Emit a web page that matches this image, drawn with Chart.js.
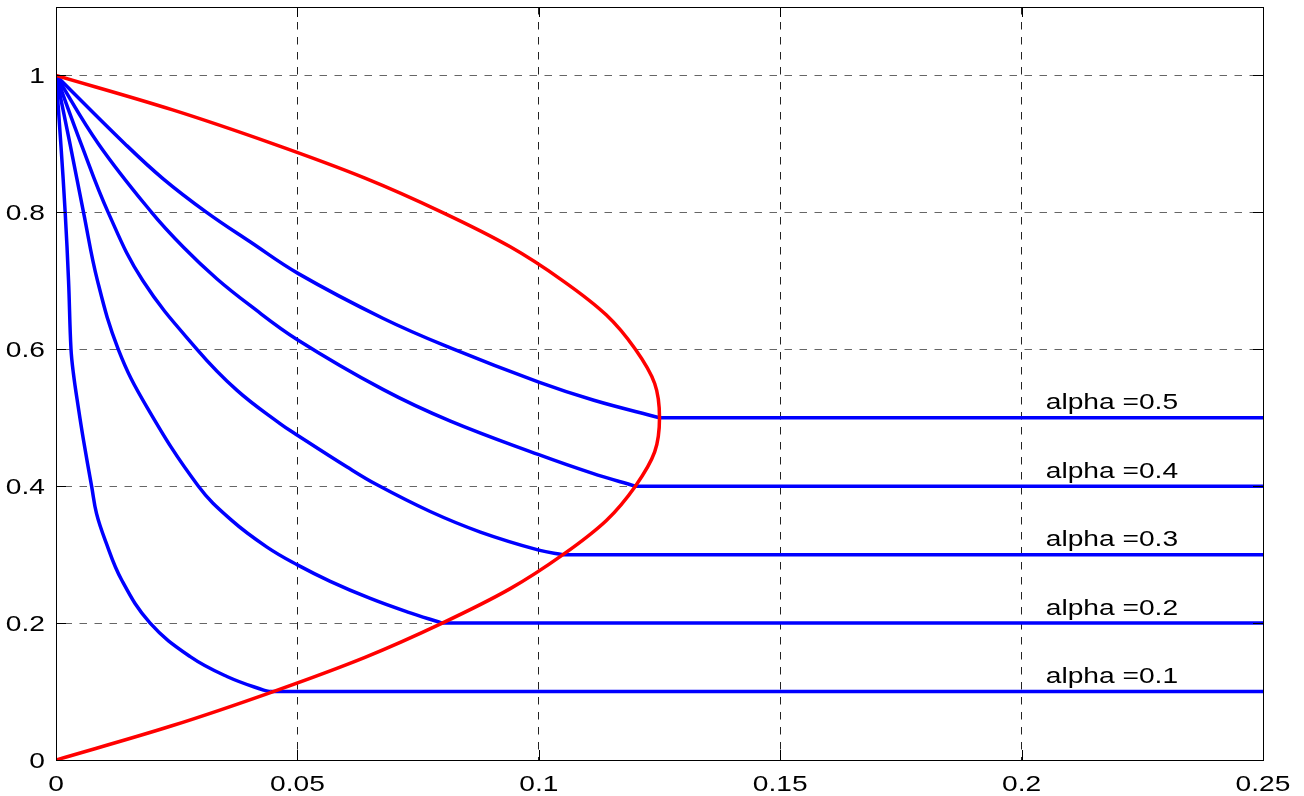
<!DOCTYPE html>
<html>
<head>
<meta charset="utf-8">
<title>alpha curves</title>
<script src="https://cdn.jsdelivr.net/npm/chart.js@4.4.1/dist/chart.umd.min.js"></script>
<style>
    html, body { margin: 0; padding: 0; background: #fff; }
    #wrap { width: 1304px; height: 796px; }
</style>
</head>
<body>
<div id="wrap"><canvas id="myChart" width="1304" height="796"></canvas></div>
<script>
// axes
var xMax = 0.25;
var yMax = 1.1;
var xTicks = [0, 0.05, 0.1, 0.15, 0.2, 0.25];
var yTicks = [0, 0.2, 0.4, 0.6, 0.8, 1];
var xTickLabels = ['0', '0.05', '0.1', '0.15', '0.2', '0.25'];
var yTickLabels = ['0', '0.2', '0.4', '0.6', '0.8', '1'];

// curve labels
var alphas = [0.1, 0.2, 0.3, 0.4, 0.5];
var alphaLabels = ['alpha =0.1', 'alpha =0.2', 'alpha =0.3', 'alpha =0.4', 'alpha =0.5'];
var labelX = 0.205;

// red boundary
var redX = [0, 0.024, 0.045, 0.064, 0.08, 0.094, 0.105, 0.114, 0.12, 0.124, 0.125,
            0.124, 0.12, 0.114, 0.105, 0.094, 0.08, 0.064, 0.045, 0.024, 0];
var redY = [0, 0.05, 0.1, 0.15, 0.2, 0.25, 0.3, 0.35, 0.4, 0.45, 0.5,
            0.55, 0.6, 0.65, 0.7, 0.75, 0.8, 0.85, 0.9, 0.95, 1];

// blue curves, from (0,1) down to the red boundary
var blue1X = [0, 0.001, 0.0019, 0.0026, 0.0031, 0.0036, 0.0046, 0.0057, 0.0074, 0.0084, 0.0102, 0.0136, 0.0195, 0.0278, 0.0354, 0.043, 0.0444];
var blue1Y = [1, 0.9, 0.8, 0.7, 0.601, 0.565, 0.516, 0.467, 0.399, 0.36, 0.321, 0.263, 0.2, 0.151, 0.122, 0.102, 0.1];

var blue2X = [0, 0.0029, 0.0057, 0.0086, 0.0129, 0.0188, 0.0295, 0.0364, 0.0437, 0.05, 0.0568, 0.0651, 0.0727, 0.08];
var blue2Y = [1, 0.9, 0.8, 0.7, 0.6, 0.516, 0.4, 0.35, 0.311, 0.285, 0.261, 0.236, 0.2165, 0.2];

var blue3X = [0, 0.0052, 0.0108, 0.018, 0.0292, 0.0375, 0.0464, 0.05, 0.0603, 0.0665, 0.0775, 0.0879, 0.1, 0.105];
var blue3Y = [1, 0.9, 0.8, 0.7, 0.6, 0.54, 0.4915, 0.4745, 0.428, 0.402, 0.363, 0.333, 0.3066, 0.3];

var blue4X = [0, 0.0088, 0.0198, 0.0264, 0.0333, 0.0402, 0.05, 0.0678, 0.0817, 0.1, 0.111, 0.12];
var blue4Y = [1, 0.9, 0.8, 0.749, 0.703, 0.664, 0.614, 0.541, 0.495, 0.446, 0.419, 0.4];

var blue5X = [0, 0.0143, 0.0222, 0.0312, 0.0402, 0.0502, 0.0678, 0.0817, 0.1, 0.1114, 0.125];
var blue5Y = [1, 0.9, 0.849, 0.8, 0.757, 0.7105, 0.645, 0.602, 0.552, 0.5255, 0.5];

var blueX = [blue1X, blue2X, blue3X, blue4X, blue5X];
var blueY = [blue1Y, blue2Y, blue3Y, blue4Y, blue5Y];

function toPoints(xs, ys) {
    var pts = [];
    for (var i = 0; i < xs.length; i++) {
        pts.push({ x: xs[i], y: ys[i] });
    }
    return pts;
}

var FONT = '22px "Liberation Sans", Arial, Helvetica, sans-serif';
var STRETCH = 1.28;   // the source text is drawn wide

function wideText(c, text, x, y) {
    c.save();
    c.translate(x, y);
    c.scale(STRETCH, 1);
    c.fillText(text, 0, 0);
    c.restore();
}

// box, inner ticks, tick labels and the alpha labels
var matlabAxes = {
    id: 'matlabAxes',
    afterDraw: function (chart) {
        var c = chart.ctx;
        var a = chart.chartArea;
        var sx = chart.scales.x;
        var sy = chart.scales.y;
        c.save();
        c.setLineDash([]);
        c.strokeStyle = '#000';
        c.lineWidth = 1;
        c.strokeRect(a.left + 0.5, a.top + 0.5, a.right - a.left, a.bottom - a.top);

        c.beginPath();
        xTicks.forEach(function (v) {
            var px = Math.round(sx.getPixelForValue(v)) + 0.5;
            c.moveTo(px, a.bottom); c.lineTo(px, a.bottom - 10);
            c.moveTo(px, a.top); c.lineTo(px, a.top + 10);
        });
        yTicks.forEach(function (v) {
            var py = Math.round(sy.getPixelForValue(v)) + 0.5;
            c.moveTo(a.left, py); c.lineTo(a.left + 10, py);
            c.moveTo(a.right, py); c.lineTo(a.right - 10, py);
        });
        c.stroke();

        c.fillStyle = '#000';
        c.font = FONT;
        c.textBaseline = 'alphabetic';

        c.textAlign = 'right';
        yTicks.forEach(function (v, i) {
            wideText(c, yTickLabels[i], a.left - 11, sy.getPixelForValue(v) + 7.5);
        });

        c.textAlign = 'center';
        xTicks.forEach(function (v, i) {
            wideText(c, xTickLabels[i], sx.getPixelForValue(v), a.bottom + 31);
        });

        c.textAlign = 'left';
        alphas.forEach(function (al, i) {
            wideText(c, alphaLabels[i], sx.getPixelForValue(labelX), sy.getPixelForValue(al) - 8.5);
        });
        c.restore();
    }
};

// red first so it is painted on top
var datasets = [{
    data: toPoints(redX, redY),
    borderColor: '#ff0000',
    borderWidth: 3.5,
    tension: 0.35
}];

for (var k = 0; k < alphas.length; k++) {
    var xs = blueX[k];
    datasets.push({
        data: toPoints(xs, blueY[k]),
        borderColor: '#0000ff',
        borderWidth: 3.5,
        tension: 0.4
    });
    // flat part after it meets the red curve
    datasets.push({
        data: [{ x: xs[xs.length - 1], y: alphas[k] }, { x: xMax, y: alphas[k] }],
        borderColor: '#0000ff',
        borderWidth: 3.5,
        tension: 0
    });
}

var ctx = document.getElementById('myChart').getContext('2d');
var myChart = new Chart(ctx, {
    type: 'scatter',
    data: { datasets: datasets },
    options: {
        responsive: false,
        animation: false,
        devicePixelRatio: 1,
        datasets: {
            scatter: {
                showLine: true,
                pointRadius: 0,
                pointHoverRadius: 0,
                fill: false
            }
        },
        layout: {
            padding: { left: 0, top: 7, right: 41, bottom: 0 }
        },
        scales: {
            x: {
                type: 'linear',
                min: 0,
                max: xMax,
                afterBuildTicks: function (scale) {
                    scale.ticks = xTicks.map(function (v) { return { value: v }; });
                },
                afterFit: function (scale) { scale.height = 36; },
                ticks: { display: false },
                grid: { color: '#222', lineWidth: 1, drawTicks: false },
                border: { display: true, color: '#000', dash: [7.5, 7.5] }
            },
            y: {
                type: 'linear',
                min: 0,
                max: yMax,
                afterBuildTicks: function (scale) {
                    scale.ticks = yTicks.map(function (v) { return { value: v }; });
                },
                afterFit: function (scale) { scale.width = 56; },
                ticks: { display: false },
                grid: { color: '#666', lineWidth: 1, drawTicks: false },
                border: { display: true, color: '#000', dash: [7.5, 7.5], dashOffset: 7.5 }
            }
        },
        plugins: {
            legend: { display: false },
            tooltip: { enabled: false }
        }
    },
    plugins: [matlabAxes]
});
</script>
</body>
</html>
